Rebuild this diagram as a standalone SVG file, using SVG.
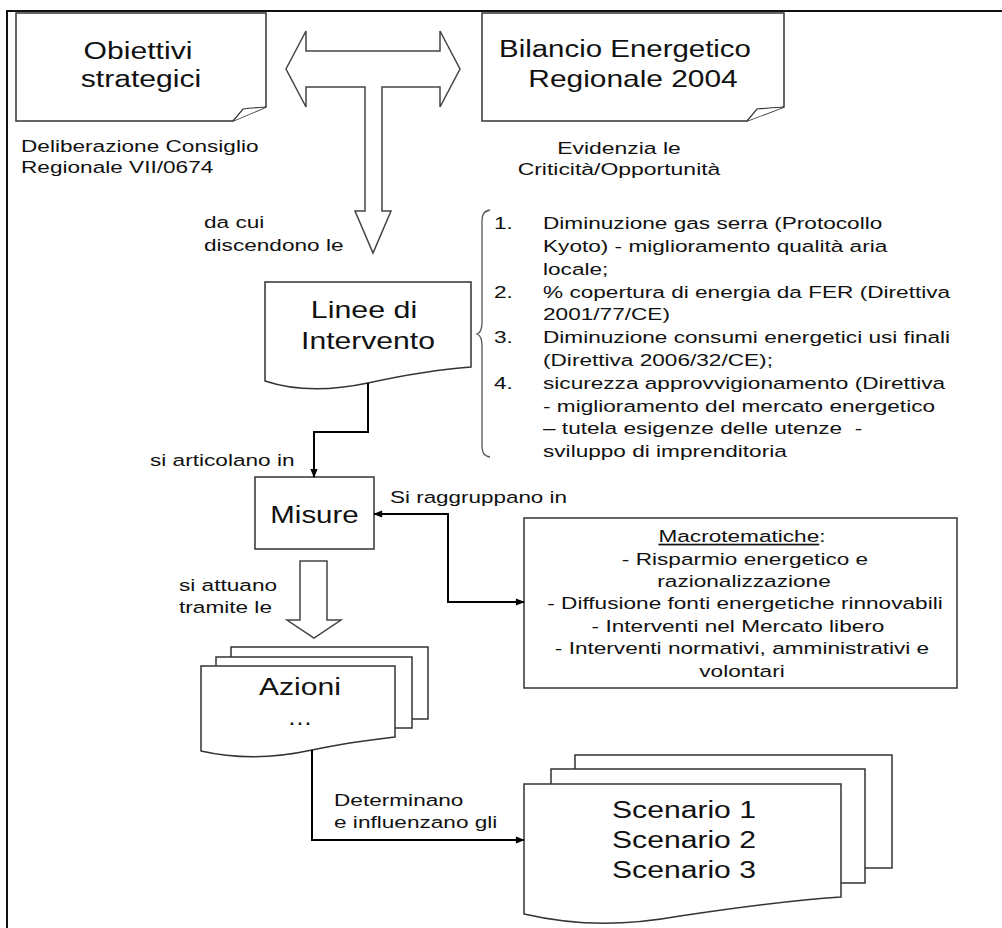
<svg xmlns="http://www.w3.org/2000/svg" width="1002" height="928" viewBox="0 0 1002 928">
<style>
.frame{fill:none;stroke:#111;stroke-width:2}
.box{fill:#fff;stroke:#333;stroke-width:1.5}
.flap{fill:#fff;stroke:#333;stroke-width:1.2}
.hollow{fill:#fff;stroke:#444;stroke-width:1.5}
.conn{fill:none;stroke:#000;stroke-width:2}
.brace{fill:none;stroke:#555;stroke-width:1.3}
.t23{font-family:"Liberation Sans",Arial,sans-serif;font-size:23px;fill:#111}
.t17{font-family:"Liberation Sans",Arial,sans-serif;font-size:17px;fill:#111}
.mid{text-anchor:middle}
</style>
<defs>
<marker id="ah" viewBox="0 0 10 10" refX="9" refY="5" markerWidth="10" markerHeight="9" markerUnits="userSpaceOnUse" orient="auto-start-reverse">
<path d="M0,1 L10,5 L0,9 Z" fill="#000"/>
</marker>
</defs>
<rect width="1002" height="928" fill="#fff"/>
<path class="frame" d="M7,928 V11 H1002"/>

<g id="obiettivi">
<path class="box" d="M16,13 H266 V107 L233,121 H16 Z"/>
<path class="flap" d="M233,121 L243,109 Q252,108 266,107"/>
<text class="t23 mid" transform="translate(138 59) scale(1.31 1)">Obiettivi</text>
<text class="t23 mid" transform="translate(141 87) scale(1.31 1)">strategici</text>
</g>

<g id="deliberazione">
<text class="t17" transform="translate(21 152) scale(1.33 1)">Deliberazione Consiglio</text>
<text class="t17" transform="translate(21 173) scale(1.33 1)">Regionale VII/0674</text>
</g>

<g id="bilancio">
<path class="box" d="M482,13 H784 V107 L747,121 H482 Z"/>
<path class="flap" d="M747,121 L757,109 Q767,108 784,107"/>
<text class="t23 mid" transform="translate(625 57) scale(1.28 1)">Bilancio Energetico</text>
<text class="t23 mid" transform="translate(633 87) scale(1.3 1)">Regionale 2004</text>
</g>

<g id="evidenzia">
<text class="t17 mid" transform="translate(619 154) scale(1.35 1)">Evidenzia le</text>
<text class="t17 mid" transform="translate(619 175) scale(1.35 1)">Criticità/Opportunità</text>
</g>

<g id="t-arrow">
<path class="hollow" d="M286,69 L306,31 V51 H440 V31 L460,69 L440,107 V87 H382 V211 H391 L373,253 L355,211 H365 V87 H306 V107 Z"/>
<text class="t17" transform="translate(204 228) scale(1.33 1)">da cui</text>
<text class="t17" transform="translate(204 251) scale(1.33 1)">discendono le</text>
</g>

<g id="linee">
<path class="box" d="M265,282 H471 V367 C430,370 400,376 368,383 C330,391 295,391 265,381 Z"/>
<text class="t23 mid" transform="translate(364 318) scale(1.32 1)">Linee di</text>
<text class="t23 mid" transform="translate(368 349) scale(1.31 1)">Intervento</text>
</g>

<g id="obiettivi-list">
<path class="brace" d="M490,210 C484,211 482,214 482,222 L482,322 C482,330 480,333 477,334 C480,335 482,338 482,346 L482,445 C482,453 484,456 490,457"/>
<text class="t17" transform="translate(494 229) scale(1.33 1)">1.</text>
<text class="t17" transform="translate(543 229) scale(1.33 1)">Diminuzione gas serra (Protocollo</text>
<text class="t17" transform="translate(543 252) scale(1.33 1)">Kyoto) - miglioramento qualità aria</text>
<text class="t17" transform="translate(543 274.5) scale(1.33 1)">locale;</text>
<text class="t17" transform="translate(494 297.5) scale(1.33 1)">2.</text>
<text class="t17" transform="translate(543 297.5) scale(1.33 1)">% copertura di energia da FER (Direttiva</text>
<text class="t17" transform="translate(543 320) scale(1.33 1)">2001/77/CE)</text>
<text class="t17" transform="translate(494 343) scale(1.33 1)">3.</text>
<text class="t17" transform="translate(543 343) scale(1.33 1)">Diminuzione consumi energetici usi finali</text>
<text class="t17" transform="translate(543 366) scale(1.33 1)">(Direttiva 2006/32/CE);</text>
<text class="t17" transform="translate(494 388.5) scale(1.33 1)">4.</text>
<text class="t17" transform="translate(543 388.5) scale(1.33 1)">sicurezza approvvigionamento (Direttiva</text>
<text class="t17" transform="translate(543 411.5) scale(1.33 1)">- miglioramento del mercato energetico</text>
<text class="t17" transform="translate(543 434) scale(1.33 1)">– tutela esigenze delle utenze &#160;-</text>
<text class="t17" transform="translate(543 457) scale(1.33 1)">sviluppo di imprenditoria</text>
</g>

<g id="misure">
<rect class="box" x="255" y="477" width="119" height="72"/>
<text class="t23 mid" transform="translate(314.5 523) scale(1.28 1)">Misure</text>
</g>

<g id="macrotematiche">
<rect class="box" x="524" y="518" width="433" height="170"/>
<text class="t17 mid" transform="translate(742 542) scale(1.33 1)"><tspan text-decoration="underline">Macrotematiche</tspan>:</text>
<text class="t17 mid" transform="translate(745 564.5) scale(1.33 1)">- Risparmio energetico e</text>
<text class="t17 mid" transform="translate(744 587) scale(1.33 1)">razionalizzazione</text>
<text class="t17 mid" transform="translate(745 609) scale(1.33 1)">- Diffusione fonti energetiche rinnovabili</text>
<text class="t17 mid" transform="translate(738 631.5) scale(1.33 1)">- Interventi nel Mercato libero</text>
<text class="t17 mid" transform="translate(742 654) scale(1.33 1)">- Interventi normativi, amministrativi e</text>
<text class="t17 mid" transform="translate(742 676.5) scale(1.33 1)">volontari</text>
</g>

<g id="attuano-arrow">
<path class="hollow" d="M300,561 H327 V620 H341 L314,638 L287,620 H300 Z"/>
<text class="t17" transform="translate(179 591) scale(1.33 1)">si attuano</text>
<text class="t17" transform="translate(179 613) scale(1.33 1)">tramite le</text>
</g>

<g id="azioni">
<rect class="box" x="231" y="647" width="197" height="72"/>
<rect class="box" x="216" y="657" width="196" height="71"/>
<path class="box" d="M201,666 H395 V737 C360,741 335,745 312,750 C280,757 240,760 201,751 Z"/>
<text class="t23 mid" transform="translate(300 695) scale(1.31 1)">Azioni</text>
<text class="t23 mid" transform="translate(300 725) scale(1.1 1)">…</text>
</g>

<g id="scenari">
<rect class="box" x="575" y="755" width="317" height="113"/>
<rect class="box" x="551" y="769" width="314" height="114"/>
<path class="box" d="M524,784 H841 V897 C780,901 720,910 680,916 C630,925 580,927 524,914 Z"/>
<text class="t23 mid" transform="translate(684 818) scale(1.31 1)">Scenario 1</text>
<text class="t23 mid" transform="translate(684 848) scale(1.31 1)">Scenario 2</text>
<text class="t23 mid" transform="translate(684 878) scale(1.31 1)">Scenario 3</text>
</g>

<g id="connectors">
<path class="conn" d="M368,383 V432 H314 V477" marker-end="url(#ah)"/>
<text class="t17" transform="translate(150 466) scale(1.33 1)">si articolano in</text>
<path class="conn" d="M374,514 H448 V602 H524" marker-start="url(#ah)" marker-end="url(#ah)"/>
<text class="t17" transform="translate(390 503) scale(1.32 1)">Si raggruppano in</text>
<path class="conn" d="M312,750 V840 H524" marker-end="url(#ah)"/>
<text class="t17" transform="translate(334 806) scale(1.33 1)">Determinano</text>
<text class="t17" transform="translate(334 828) scale(1.33 1)">e influenzano gli</text>
</g>
</svg>
